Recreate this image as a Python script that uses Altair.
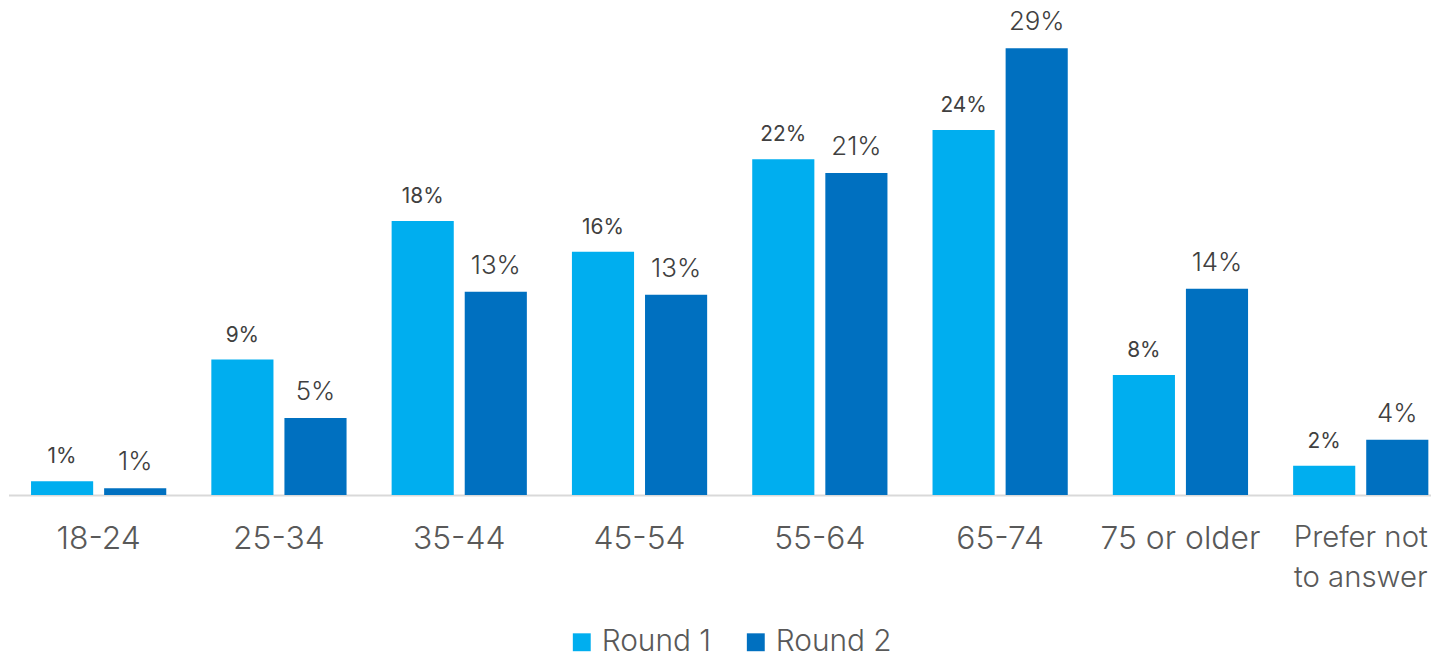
import altair as alt
import pandas as pd

categories = ["18-24", "25-34", "35-44", "45-54", "55-64", "65-74", "75 or older", "Prefer not to answer"]
round1 = [0.009, 0.088, 0.178, 0.158, 0.218, 0.237, 0.078, 0.019]
round2 = [0.0045, 0.050, 0.132, 0.130, 0.209, 0.290, 0.134, 0.036]
round1_labels = ["1%", "9%", "18%", "16%", "22%", "24%", "8%", "2%"]
round2_labels = ["1%", "5%", "13%", "13%", "21%", "29%", "14%", "4%"]
series = ["Round 1", "Round 2"]
colors = ["#00AEEF", "#0070C0"]

rows = []
for c, v, l in zip(categories, round1, round1_labels):
    rows.append({"cat": c, "series": "Round 1", "value": v, "label": l})
for c, v, l in zip(categories, round2, round2_labels):
    rows.append({"cat": c, "series": "Round 2", "value": v, "label": l})
df = pd.DataFrame(rows)

FONT = "Inter"

x = alt.X("cat:N", sort=categories, title=None,
          scale=alt.Scale(paddingInner=0.25, paddingOuter=0.125, range=[0.5, 1451]),
          axis=alt.Axis(labelAngle=0, ticks=False,
                        labelFontSize={"condition": {"test": "datum.value == 'Prefer not to answer'", "value": 29.5}, "value": 32},
                        labelColor="#595959",
                        labelFont=FONT, labelPadding=29, labelLineHeight=40, labelFontWeight=300,
                        domainColor="#d9d9d9", domainWidth=2, labelBound=False, labelOverlap=False,
                        labelExpr="datum.value == 'Prefer not to answer' ? ['Prefer not', 'to answer'] : datum.value"))
xoff = alt.XOffset("series:N", sort=series, scale=alt.Scale(paddingInner=0.15, paddingOuter=0))
y = alt.Y("value:Q", scale=alt.Scale(domain=[0, 0.315], nice=False), axis=None)

bars = alt.Chart(df).mark_bar().encode(
    x=x, xOffset=xoff, y=y,
    color=alt.Color("series:N", sort=series, scale=alt.Scale(domain=series, range=colors),
                    legend=alt.Legend(title=None, orient="none", direction="horizontal",
                                      legendX=562, legendY=621, symbolType="square",
                                      symbolSize=324, symbolStrokeWidth=0, labelFontSize=30,
                                      labelFont=FONT, labelFontWeight=300, labelColor="#595959",
                                      labelOffset=5, columnPadding=29)),
)

text1 = alt.Chart(df).transform_filter(alt.datum.series == "Round 1").mark_text(
    baseline="alphabetic", dy=-18, color="#404040", font=FONT, fontSize=21).encode(
    x=x, xOffset=xoff, y=y, text="label:N")
text2 = alt.Chart(df).transform_filter(alt.datum.series == "Round 2").mark_text(
    baseline="alphabetic", dy=-18, color="#404040", font=FONT, fontSize=26, fontWeight=300).encode(
    x=x, xOffset=xoff, y=y, text="label:N")

chart = alt.layer(bars, text1, text2).properties(
    width=1431, height=488,
    autosize=alt.AutoSizeParams(type="none"),
    padding={"left": 0, "top": 0, "right": 0, "bottom": 164},
).configure_view(stroke=None)

chart.save("out.html", embed_options={"renderer": "svg", "actions": False})
